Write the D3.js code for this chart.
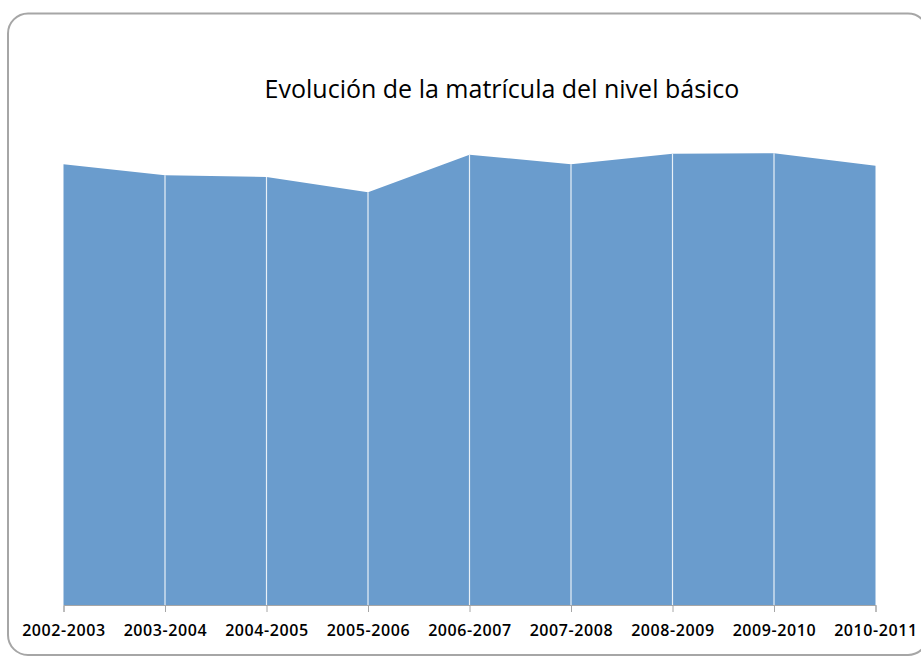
<!DOCTYPE html>
<html><head><meta charset="utf-8">
<script src="https://cdn.jsdelivr.net/npm/d3@7"></script>
<style>body{margin:0;background:#fff;}svg{display:block;}</style>
</head><body>
<svg id="c" width="921" height="657"></svg>
<script>
const title = "Evolución de la matrícula del nivel básico";
const categories = ["2002-2003","2003-2004","2004-2005","2005-2006","2006-2007","2007-2008","2008-2009","2009-2010","2010-2011"];
const values = [440700, 429700, 428000, 412700, 450300, 440700, 451300, 451700, 439300];

const svg = d3.select("#c");
svg.append("rect").attr("x",8).attr("y",13.5).attr("width",920).attr("height",641.5)
  .attr("rx",20).attr("fill","#fff").attr("stroke","#A6A6A6").attr("stroke-width",2);

svg.append("text").attr("x",502).attr("y",98).attr("text-anchor","middle")
  .attr("font-family","Open Sans").attr("font-size",25).attr("fill","#000").text(title);

const x = d3.scalePoint().domain(categories).range([63.5,875.5]);
const y = d3.scaleLinear().domain([0,550000]).range([605,55]);

const area = d3.area().x(d=>x(d.c)).y0(y(0)).y1(d=>y(d.v));
const data = categories.map((c,i)=>({c, v: values[i]}));
svg.append("path").datum(data).attr("d",area).attr("fill","#6A9CCD");

svg.selectAll("line.sep").data(data.slice(1,-1)).enter().append("line")
  .attr("x1",d=>x(d.c)).attr("x2",d=>x(d.c)).attr("y1",d=>y(d.v)).attr("y2",y(0))
  .attr("stroke","#fff").attr("stroke-width",1.2).attr("opacity",0.85);

const ax = svg.append("g").attr("transform",`translate(0,${y(0)})`)
  .call(d3.axisBottom(x).tickSize(7).tickPadding(13));
ax.select(".domain").attr("stroke","#A6A6A6").attr("stroke-width",1);
ax.selectAll(".tick line").attr("stroke","#A6A6A6");
ax.selectAll(".tick text").attr("font-family","Open Sans").attr("font-weight",600)
  .attr("font-size",16).attr("letter-spacing",0.6).attr("fill","#000");
</script>
</body></html>
